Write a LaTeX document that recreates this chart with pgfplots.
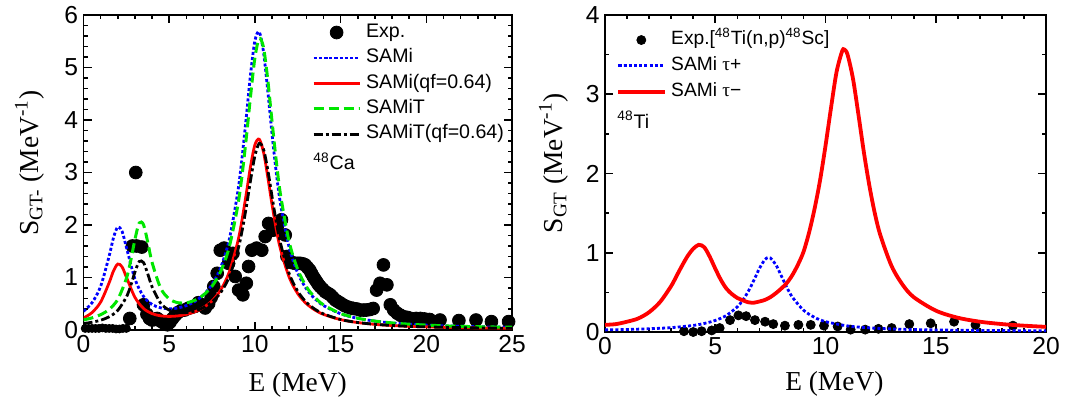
\documentclass[border=0pt]{standalone}
\usepackage{fontspec}
\setmainfont{Liberation Sans}
\newfontfamily\timesfont{Liberation Serif}
\usepackage{pgfplots}
\pgfplotsset{compat=1.18}
\definecolor{cblue}{RGB}{0,0,255}
\definecolor{cred}{RGB}{255,0,0}
\definecolor{cgreen}{RGB}{0,230,0}
\pgfplotsset{
 myaxis/.style={
  scale only axis, anchor=south west,
  axis line style={line width=0.9pt},
  tick style={line width=0.8pt, black},
  major tick length=4pt, minor tick length=2pt,
  tick align=inside, xtick pos=both, ytick pos=both,
  /pgf/number format/assume math mode=true,
  tick label style={font=\fontsize{12.3}{12.3}\selectfont, inner sep=0pt},
  xticklabel style={yshift=-2.5pt},
  yticklabel style={xshift=-2.5pt},
  label style={font=\timesfont\fontsize{13.7}{13.7}\selectfont},
  clip mode=individual,
  legend cell align=left,
  legend image code/.code={\draw[mark repeat=2,mark phase=2,##1] plot coordinates {(0pt,0pt) (11.5pt,0pt) (23pt,0pt)};},
 }
}
\begin{document}
\begin{tikzpicture}
\useasboundingbox (0,0) rectangle (539.5pt,201.5pt);
% ---------------- left panel ----------------
\begin{axis}[myaxis,
  at={(41.75pt,36.5pt)}, width=214.25pt, height=157.5pt,
  xmin=0, xmax=25, ymin=0, ymax=6,
  xtick={0,5,10,15,20,25}, ytick={0,1,2,3,4,5,6},
  minor x tick num=4, minor y tick num=4,
  xlabel={E (MeV)}, ylabel={S\textsubscript{GT-} (MeV\textsuperscript{-1})},
  xlabel style={at={(axis description cs:0.5,-0.1937)}, anchor=base},
  ylabel style={at={(axis description cs:-0.106,0.53)}, anchor=base},
  legend style={draw=none, fill=none, inner sep=0pt,
    at={(axis description cs:0.5326,0.986)}, anchor=north west,
    font=\fontsize{9.8}{9.8}\selectfont, row sep=0pt, column sep=2.5pt,
    nodes={inner sep=0pt, text height=8.7pt, text depth=4pt}},
]
\addplot[only marks, mark=*, mark size=2pt, black, forget plot] coordinates {
(0.1,0.03)(0.3,0.03)(0.5,0.03)(0.7,0.03)(0.9,0.03)(1.1,0.04)(1.3,0.03)(1.5,0.03)(1.7,0.03)(1.9,0.02)(2.1,0.02)(2.3,0.03)(2.5,0.03)};
\addplot[only marks, mark=*, mark size=3.2pt, black] coordinates {
(2.7,0.22)(3.05,3.0)(2.85,1.6)(3.1,1.6)(3.4,1.58)(3.5,0.48)(3.7,0.3)(3.85,0.22)(4.0,0.19)(4.15,0.2)(4.3,0.22)(4.45,0.18)(4.6,0.15)(4.75,0.12)(4.9,0.1)(5.05,0.15)(5.2,0.22)(5.35,0.28)(5.5,0.33)(5.7,0.37)(5.9,0.38)(6.1,0.41)(6.3,0.43)(6.5,0.45)(6.7,0.52)(6.9,0.48)(7.1,0.42)(7.3,0.5)(7.45,0.62)(7.6,0.83)(7.8,1.08)(7.98,1.52)(8.2,1.56)(8.46,1.27)(8.72,1.46)(8.85,1.02)(9.05,0.76)(9.3,0.67)(9.5,0.89)(9.63,1.21)(9.82,1.52)(10.1,1.56)(10.4,1.52)(10.6,1.78)(10.8,2.03)(11.05,1.9)(11.3,1.97)(11.55,2.1)(11.77,1.81)(11.87,1.4)(12.06,1.3)(12.2,1.28)(12.35,1.27)(12.5,1.27)(12.65,1.27)(12.8,1.26)(12.94,1.24)(13.07,1.19)(13.2,1.14)(13.3,1.08)(13.4,1.02)(13.5,0.97)(13.6,0.92)(13.7,0.87)(13.8,0.83)(13.95,0.78)(14.1,0.73)(14.25,0.7)(14.4,0.67)(14.55,0.62)(14.7,0.57)(14.85,0.54)(15.0,0.51)(15.2,0.47)(15.4,0.44)(15.6,0.42)(15.75,0.41)(15.95,0.4)(16.15,0.38)(16.35,0.38)(16.5,0.38)(16.7,0.39)(16.9,0.41)(17.1,0.76)(17.3,0.89)(17.5,1.24)(17.7,0.86)(17.9,0.48)(18.1,0.38)(18.3,0.32)(18.5,0.28)(18.7,0.25)(18.9,0.24)(19.1,0.22)(19.4,0.22)(19.65,0.22)(19.9,0.21)(20.2,0.2)(20.8,0.19)(21.9,0.18)(22.9,0.19)(23.8,0.16)(24.8,0.16)};
\addlegendentry{Exp.}
\addplot[smooth, cblue, line width=1.4pt, dash pattern=on 1.5pt off 1.1pt] table {
0 0.356
0.5 0.52
1 0.832
1.5 1.413
1.75 1.759
2 1.964
2.25 1.879
2.5 1.578
3 0.972
3.5 0.641
4 0.487
4.5 0.422
5 0.404
5.5 0.419
6 0.465
6.5 0.544
7 0.67
7.5 0.868
8 1.187
8.5 1.719
9 2.627
9.25 3.28
9.5 4.064
9.75 4.882
10 5.51
10.25 5.679
10.5 5.30
10.75 4.558
11 3.732
11.25 2.991
11.5 2.391
12 1.57
12.5 1.083
13 0.786
13.5 0.595
14 0.466
15 0.309
16 0.222
17 0.169
18 0.134
19 0.11
20 0.093
21 0.08
22 0.071
23 0.062
24 0.057
25 0.052
};
\addlegendentry{SAMi}
\addplot[smooth, cred, line width=1.4pt] table {
0 0.228
0.5 0.333
1 0.532
1.5 0.904
1.75 1.126
2 1.257
2.25 1.203
2.5 1.01
3 0.622
3.5 0.41
4 0.312
4.5 0.27
5 0.259
5.5 0.268
6 0.298
6.5 0.348
7 0.429
7.5 0.556
8 0.76
8.5 1.10
9 1.681
9.25 2.099
9.5 2.601
9.75 3.124
10 3.526
10.25 3.635
10.5 3.392
10.75 2.917
11 2.388
11.25 1.914
11.5 1.53
12 1.005
12.5 0.693
13 0.503
13.5 0.381
14 0.298
15 0.198
16 0.142
17 0.108
18 0.086
19 0.07
20 0.06
21 0.051
22 0.045
23 0.04
24 0.036
25 0.033
};
\addlegendentry{SAMi(qf=0.64)}
\addplot[smooth, cgreen, line width=1.5pt, dash pattern=on 5pt off 2.5pt] table {
0 0.193
0.5 0.231
1 0.292
1.5 0.393
2 0.583
2.5 0.979
2.75 1.313
3 1.722
3.25 2.038
3.5 2.007
3.75 1.67
4 1.288
4.5 0.798
5 0.592
5.5 0.52
6 0.519
6.5 0.567
7 0.667
7.5 0.835
8 1.112
8.5 1.575
9 2.367
9.25 2.947
9.5 3.665
9.75 4.466
10 5.185
10.25 5.552
10.5 5.385
10.75 4.77
11 3.972
11.25 3.207
11.5 2.567
12 1.677
12.5 1.153
13 0.825
13.5 0.62
14 0.48
15 0.313
16 0.224
17 0.17
18 0.135
19 0.11
20 0.094
21 0.08
22 0.07
23 0.063
24 0.057
25 0.053
};
\addlegendentry{SAMiT}
\addplot[smooth, black, line width=1.4pt, dash pattern=on 4.5pt off 1.5pt on 1.5pt off 1.5pt] table {
0 0.124
0.5 0.148
1 0.187
1.5 0.252
2 0.373
2.5 0.627
2.75 0.84
3 1.102
3.25 1.304
3.5 1.284
3.75 1.069
4 0.824
4.5 0.511
5 0.379
5.5 0.333
6 0.332
6.5 0.363
7 0.427
7.5 0.534
8 0.712
8.5 1.008
9 1.515
9.25 1.886
9.5 2.346
9.75 2.858
10 3.318
10.25 3.553
10.5 3.446
10.75 3.053
11 2.542
11.25 2.052
11.5 1.643
12 1.073
12.5 0.738
13 0.528
13.5 0.397
14 0.307
15 0.2
16 0.143
17 0.109
18 0.086
19 0.07
20 0.06
21 0.051
22 0.045
23 0.04
24 0.036
25 0.034
};
\addlegendentry{SAMiT(qf=0.64)}
\node[anchor=base west, inner sep=0pt, font=\fontsize{9.8}{9.8}\selectfont] at (axis cs:13.39,3.048) {\textsuperscript{48}Ca};
\end{axis}
% ---------------- right panel ----------------
\begin{axis}[myaxis,
  at={(302.5pt,35.5pt)}, width=220.5pt, height=158.5pt,
  xmin=0, xmax=20, ymin=0, ymax=4,
  xtick={0,5,10,15,20}, ytick={0,1,2,3,4},
  minor x tick num=4, minor y tick num=1,
  xlabel={E (MeV)}, ylabel={S\textsubscript{GT} (MeV\textsuperscript{-1})},
  xlabel style={at={(axis description cs:0.52,-0.186)}, anchor=base},
  ylabel style={at={(axis description cs:-0.0975,0.533)}, anchor=base},
  legend style={draw=none, fill=none, inner sep=0pt,
    at={(axis description cs:0.025,0.963)}, anchor=north west,
    font=\fontsize{9.6}{9.6}\selectfont, row sep=0pt, column sep=2.5pt,
    nodes={inner sep=0pt, text height=8.9pt, text depth=4pt}},
]
\addplot[only marks, mark=*, mark size=2.25pt, black] coordinates {
(3.58,0.01)(4.0,0.0)(4.38,0.01)(4.84,0.02)(5.2,0.05)(5.67,0.15)(6.05,0.21)(6.4,0.2)(6.8,0.15)(7.26,0.13)(7.63,0.1)(8.16,0.08)(8.77,0.09)(9.33,0.09)(9.93,0.08)(10.55,0.07)(11.14,0.03)(11.8,0.03)(12.4,0.04)(13.0,0.05)(13.8,0.1)(14.77,0.11)(15.83,0.13)(16.8,0.09)(18.5,0.08)};
\addlegendentry{Exp.[\textsuperscript{48}Ti(n,p)\textsuperscript{48}Sc]}
\addplot[smooth, cblue, line width=1.4pt, dash pattern=on 1.5pt off 1.1pt] table {
0 0.027
1 0.032
2 0.041
3 0.055
4 0.083
4.5 0.108
5 0.146
5.5 0.208
6 0.318
6.25 0.403
6.5 0.514
6.75 0.652
7 0.80
7.25 0.914
7.4 0.94
7.5 0.934
7.75 0.849
8 0.706
8.25 0.561
8.5 0.439
9 0.276
9.5 0.185
10 0.131
11 0.077
12 0.052
13 0.039
14 0.031
16 0.022
18 0.018
20 0.016
};
\addlegendentry{SAMi {\timesfont τ}+}
\addplot[smooth, cred, line width=1.9pt] table {
0 0.09
0.5 0.10
1 0.13
1.5 0.17
2 0.25
2.5 0.38
3 0.58
3.25 0.71
3.5 0.84
3.75 0.96
4 1.05
4.25 1.10
4.5 1.07
4.75 0.95
5 0.80
5.25 0.66
5.5 0.55
5.75 0.48
6 0.43
6.25 0.40
6.5 0.375
6.75 0.37
7 0.385
7.25 0.405
7.5 0.44
7.75 0.49
8 0.55
8.25 0.62
8.5 0.72
8.75 0.85
9 1.01
9.25 1.25
9.5 1.55
9.75 1.91
10 2.35
10.25 2.83
10.5 3.28
10.75 3.54
10.85 3.565
11 3.50
11.25 3.19
11.5 2.73
11.75 2.25
12 1.83
12.25 1.48
12.5 1.21
13 0.83
13.5 0.595
14 0.44
15 0.27
16 0.18
17 0.13
18 0.10
19 0.08
20 0.065
};
\addlegendentry{SAMi {\timesfont τ}−}
\node[anchor=base west, inner sep=0pt, font=\fontsize{9.8}{9.8}\selectfont] at (axis cs:0.544,2.574) {\textsuperscript{48}Ti};
\end{axis}
\end{tikzpicture}
\end{document}
